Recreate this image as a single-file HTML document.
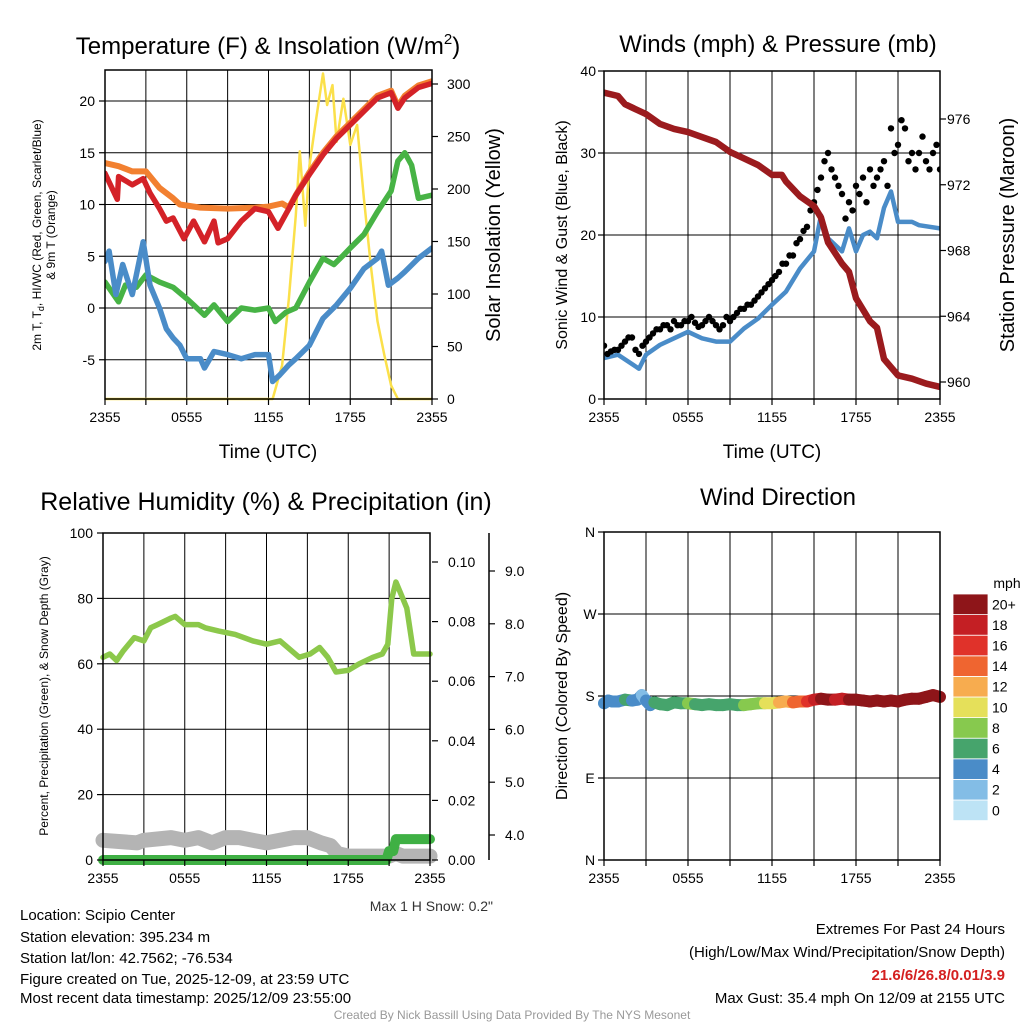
<!DOCTYPE html>
<html><head><meta charset="utf-8"><style>
body{margin:0;background:#fff;}
svg{display:block;font-family:"Liberation Sans",Arial,sans-serif;}
</style></head><body>
<svg id="s" width="1024" height="1024" viewBox="0 0 1024 1024" xmlns="http://www.w3.org/2000/svg">
<rect width="1024" height="1024" fill="#fff"/>
<g id="g1"></g>
<g id="g2"></g>
<g id="g3"></g>
<g id="g4"></g>
<g font-size="24" text-anchor="middle">
<text x="268" y="54">Temperature (F) &amp; Insolation (W/m<tspan font-size="15" dy="-10">2</tspan><tspan dy="10">)</tspan></text>
<text x="778" y="52">Winds (mph) &amp; Pressure (mb)</text>
<text x="266" y="510" font-size="25">Relative Humidity (%) &amp; Precipitation (in)</text>
<text x="778" y="505">Wind Direction</text>
</g>
<g font-size="19" text-anchor="middle">
<text x="268" y="458">Time (UTC)</text>
<text x="772" y="458">Time (UTC)</text>
<text transform="translate(500,235) rotate(-90)" font-size="20">Solar Insolation (Yellow)</text>
<text transform="translate(1014,235) rotate(-90)" font-size="20">Station Pressure (Maroon)</text>
<text transform="translate(567,235) rotate(-90)" font-size="16">Sonic Wind &amp; Gust (Blue, Black)</text>
<text transform="translate(567,696) rotate(-90)" font-size="16">Direction (Colored By Speed)</text>
<text transform="translate(41,235) rotate(-90)" font-size="12">2m T, T<tspan font-size="9" dy="3">d</tspan><tspan dy="-3">, HI/WC (Red, Green, Scarlet/Blue)</tspan></text>
<text transform="translate(55,235) rotate(-90)" font-size="12">&amp; 9m T (Orange)</text>
<text transform="translate(48,696) rotate(-90)" font-size="12">Percent, Precipitation (Green), &amp; Snow Depth (Gray)</text>
</g>
<text x="493" y="911" font-size="14" text-anchor="end" fill="#333">Max 1 H Snow: 0.2"</text>
<g font-size="15">
<text x="20" y="920">Location: Scipio Center</text>
<text x="20" y="942">Station elevation: 395.234 m</text>
<text x="20" y="963">Station lat/lon: 42.7562; -76.534</text>
<text x="20" y="984">Figure created on Tue, 2025-12-09, at 23:59 UTC</text>
<text x="20" y="1003">Most recent data timestamp: 2025/12/09 23:55:00</text>
</g>
<g font-size="15" text-anchor="end">
<text x="1005" y="934">Extremes For Past 24 Hours</text>
<text x="1005" y="957">(High/Low/Max Wind/Precipitation/Snow Depth)</text>
<text x="1005" y="980" fill="#d42020" font-weight="bold">21.6/6/26.8/0.01/3.9</text>
<text x="1005" y="1003">Max Gust: 35.4 mph On 12/09 at 2155 UTC</text>
</g>
<text x="512" y="1019" font-size="12" fill="#999" text-anchor="middle">Created By Nick Bassill Using Data Provided By The NYS Mesonet</text>
</svg>
<script>
// ---- Data (hours since 2355 UTC) ----
const xTickLabels = ["2355","0555","1155","1755","2355"];
const tHours = [0,0.9,1,2,2.8,3.3,4,4.5,5,5.8,6.5,7.3,8,8.3,9,10,11,12,12.7,13.5,14,15,16,17,18,19,20,21,21.5,22,23,24];
const tempRed = [13.0,10.5,12.7,11.9,12.5,11.1,9.6,8.4,8.7,6.7,8.4,6.4,8.4,6.3,6.7,8.4,9.6,9.3,7.7,9.6,10.9,12.9,14.8,16.4,17.7,19.0,20.3,20.8,19.3,20.3,21.3,21.7];
const t9Hours = [0,1,2,3,4,5,5.5,7,9,11,12,13,13.5,14,15,16,17,18,19,20,21,21.5,22,23,24];
const temp9m = [14.0,13.7,13.2,13.2,11.6,10.6,10.0,9.7,9.6,9.7,9.8,10.1,9.7,10.9,13.1,15.0,16.6,17.9,19.2,20.5,21.0,19.5,20.5,21.5,21.9];
const tdHours = [0,1,1.5,2.3,3,4,5,6,6.5,7.3,8,9,10,11,12,12.5,13.3,14,15,16,16.8,17.5,18,19,20,21,21.5,22,22.5,23,24];
const dewpoint = [2.5,0.6,2.2,2.0,3.2,2.5,2.0,0.9,0.3,-0.7,0.3,-1.3,0,-0.2,0,-1.3,-0.4,0,2.5,4.8,4.2,5.1,5.8,7.1,9.3,11.3,14.2,15.0,13.8,10.6,10.9];
const wcHours = [0,0.3,0.8,1.3,2,2.8,3.3,4,4.5,5,5.5,6,7,7.3,8,9,10,11,12,12.3,12.8,13.5,14,15,16,17,18,19,20,20.3,20.8,21.5,22,23,24];
const windChill = [4.5,5.5,1.3,4.2,1.3,6.4,2.2,0,-2.0,-2.9,-3.6,-4.9,-4.9,-5.8,-4.2,-4.5,-4.9,-4.5,-4.5,-7.1,-6.5,-5.5,-4.9,-3.6,-1.0,0.3,1.9,3.8,4.8,5.5,2.2,2.9,3.5,4.8,5.8];
const solHours = [0,12.3,13,13.5,14,14.3,14.7,15,15.5,16,16.3,16.7,17,17.5,18,18.5,19,19.5,20,20.5,21,21.5,24];
const solar = [0,0,32,96,175,236,165,222,267,310,280,299,245,286,242,261,191,128,74,42,13,0,0];
const tempTicks = [-5,0,5,10,15,20];
const solarTicks = [0,50,100,150,200,250,300];

const wHours = [0,1,2.5,3,4,5,6,7,8,9,10,11,12,13,14,15,15.5,16,17,17.5,18,18.5,19,19.5,20,20.5,21,22,22.5,24];
const windSpeed = [5.0,5.4,3.7,5.4,6.6,7.4,8.2,7.4,7.0,7.0,8.6,9.8,11.5,13.1,15.9,18.0,22.4,19.6,18.0,20.8,18.0,20.0,20.4,19.6,23.3,25.3,21.6,21.6,21.2,20.8];
const gHours = [0,0.5,1,1.5,2,2.5,3,3.5,4,4.5,5,5.5,6,6.5,7,7.5,8,8.5,9,9.5,10,10.5,11,11.5,12,12.5,13,13.5,14,14.5,15,15.5,16,16.5,17,17.5,18,18.5,19,19.5,20,20.5,21,21.5,22,22.5,23,23.5,24];
const gust = [6.5,5.8,6,7,7.5,5.5,7,8,8.5,9,9.5,9,9.5,9.3,9,10,9,9,9.5,10.5,11,11.5,12.5,13.5,14.5,15.5,16.5,17.5,19.5,21,24,27,30,27,25,24,26,27,28,27,29,33,31,33,30,30,29,30,28];
const gust2 = [5.5,6,6.5,7.5,6,6.5,7.5,8.5,9,8.5,9,9.5,10,8.8,9.5,9.5,8.5,10,10,11,11.5,12,13,14,15,16.5,17.5,19,20.5,23,25.5,29,28,26,22,23,25,24,26,28,26,30,34,29,28,32,28,31,29];
const pHours = [0,1,1.5,2,3,4,5,6,7,8,9,10,11,12,12.7,13,14,15,15.5,16,17,17.5,18,19,19.5,20,21,22,23,24];
const pressure = [977.6,977.4,976.9,976.7,976.3,975.7,975.4,975.2,974.9,974.6,974.0,973.6,973.2,972.6,972.6,972.2,971.3,970.7,970.0,968.5,967.2,966.7,965.1,963.7,963.3,961.4,960.4,960.2,959.9,959.7];
const windTicks = [0,10,20,30,40];
const pressTicks = [960,964,968,972,976];

const rhHours = [0,0.5,1,1.5,2.3,3,3.5,4,5,5.3,6,7,7.5,8.5,9.7,11,12,13,14.4,15.2,15.9,16.5,17.1,18,18.8,19.8,20.5,20.9,21.2,21.5,22,22.3,22.8,23.5,24];
const rh = [62,63,61,64,68,67,71,72,74,74.5,72,72,71,70,69,67,66,67,62,63,65,62,57.5,58,60,62,63,66,80,85,80,77,63,63,63];
const snowHours = [0,2.5,3,5,6,7,8,9,10,11,12,13,14,15,16,16.7,17.2,18,19,20,21,21.5,22,24];
const snowDepth = [3.9,3.85,3.9,3.95,3.9,3.95,3.85,3.95,3.95,3.9,3.85,3.9,3.95,3.95,3.85,3.8,3.65,3.6,3.6,3.6,3.6,3.65,3.6,3.6];
const prHours = [0,20.8,21,21.3,21.5,24];
const precip = [0,0,0.003,0.003,0.007,0.007];
const rhTicks = [0,20,40,60,80,100];
const prTicks = [0.00,0.02,0.04,0.06,0.08,0.10];
const snowTicks = [4.0,5.0,6.0,7.0,8.0,9.0];

const dHours = [0,0.3,0.6,1,1.5,2,2.4,2.7,3,3.3,3.6,4,4.5,5,5.5,6,6.5,7,7.5,8,8.5,9,9.5,10,10.5,11,11.5,12,12.5,13,13.5,14,14.5,15,15.5,16,16.5,17,17.5,18,18.5,19,19.5,20,20.5,21,21.5,22,22.5,23,23.5,24];
const direction = [172,175,174,174,176,175,176,181,175,170,173,171,170,173,172,172,171,170,171,170,170,171,170,170,171,172,172,172,173,174,173,174,174,176,177,176,176,177,176,176,175,174,175,174,175,174,176,177,177,179,181,179];
const dirSpeed = [5,4.5,5,5.4,6,5,4,3.7,5,5.4,6,6.6,7,7.4,7.5,8.2,7.6,7.4,7.2,7.0,7.0,7.0,7.5,8.6,9.2,9.8,10.5,11.5,12.3,13.1,14.5,15.9,17,18,22,20,19,18,20,20,20,20.4,20,23,25,21.6,21.6,21.6,21.4,21,21,20.8];
const dirTicks = ["N","E","S","W","N"];
const speedLabels = ["0","2","4","6","8","10","12","14","16","18","20+"];
const speedColors = ["#bde3f5","#83bde6","#4a8cc8","#46a46c","#87c94e","#e5e05a","#f7ac4f","#ef6530","#e0322a","#c41f24","#8e1519"];

// ---- helpers ----
const NS="http://www.w3.org/2000/svg";
function el(parent,tag,attrs){const e=document.createElementNS(NS,tag);for(const k in attrs)e.setAttribute(k,attrs[k]);parent.appendChild(e);return e;}
function lin(d0,d1,r0,r1){return v=>r0+(v-d0)*(r1-r0)/(d1-d0);}
function drawLine(g,xs,ys,X,Y,color,w,name,extra){
  const pts=xs.map((h,i)=>X(h).toFixed(1)+","+Y(ys[i]).toFixed(1)).join(" ");
  const p=el(g,"polyline",Object.assign({points:pts,fill:"none",stroke:color,"stroke-width":w,"stroke-linejoin":"round","stroke-linecap":"round"},extra||{}));
  
  
  return p;
}
function frame(g,x0,y0,x1,y1,name){
  const r=el(g,"rect",{x:x0,y:y0,width:x1-x0,height:y1-y0,fill:"none",stroke:"#000","stroke-width":1.5});
  
  
}
function grid(g,X,x0,y0,x1,y1,hlines){
  for(let h=3;h<24;h+=3){const l=el(g,"line",{x1:X(h),x2:X(h),y1:y0,y2:y1,stroke:"#000","stroke-width":1});
    
    }
  hlines.forEach(y=>{const l=el(g,"line",{x1:x0,x2:x1,y1:y,y2:y,stroke:"#000","stroke-width":1});
    
    });
}
function xTicks(g,X,yb){
  for(let h=0;h<=24;h+=3){const l=el(g,"line",{x1:X(h),x2:X(h),y1:yb,y2:yb+6,stroke:"#000","stroke-width":1.2});
    
    }
  xTickLabels.forEach((t,i)=>{const e=el(g,"text",{x:X(i*6),y:yb+23,"font-size":14,"text-anchor":"middle"});e.textContent=t;
    
    });
}
function yTicks(g,ticks,Y,x,side,fmt,lx){
  ticks.forEach(v=>{const y=Y(v);
    const l=el(g,"line",{x1:x,x2:x+(side>0?6:-6),y1:y,y2:y,stroke:"#000","stroke-width":1.2});
    
    
    const e=el(g,"text",{x:lx,y:y+5,"font-size":14,"text-anchor":side>0?"start":"end"});e.textContent=fmt(v);
    
    });
}

// ---- Panel 1 ----
(function(){
 const g=document.getElementById("g1");
 const x0=105,x1=432,y0=70,y1=399;
 const X=lin(0,24,x0,x1), Y=lin(0,20,308,101), YS=lin(0,300,399,84);
 grid(g,X,x0,y0,x1,y1,tempTicks.map(Y));
 const gl=el(g,"clipPath",{id:"c1"});el(gl,"rect",{x:x0,y:y0-2,width:x1-x0,height:y1-y0+4});
 const d=el(g,"g",{"clip-path":"url(#c1)"});
 drawLine(d,solHours,solar,X,YS,"#fbe04a",2.5,"solar-line");
 drawLine(d,t9Hours,temp9m,X,Y,"#f28030",6,"temp-9m-line");
 drawLine(d,tHours,tempRed,X,Y,"#d42228",5.5,"temp-2m-line");
 drawLine(d,tdHours,dewpoint,X,Y,"#47b345",5.5,"dewpoint-line");
 drawLine(d,wcHours,windChill,X,Y,"#4a8cc8",5.5,"wind-chill-line");
 frame(g,x0,y0,x1,y1,"temp-plot-frame");
 xTicks(g,X,y1);
 yTicks(g,tempTicks,Y,x0,-1,v=>String(v),95);
 yTicks(g,solarTicks,YS,x1,1,v=>String(v),447);
})();

// ---- Panel 2 ----
(function(){
 const g=document.getElementById("g2");
 const x0=604,x1=940,y0=71,y1=399;
 const X=lin(0,24,x0,x1), Y=lin(0,40,399,71), YP=lin(960,976,382,119);
 grid(g,X,x0,y0,x1,y1,[10,20,30].map(Y));
 const gl=el(g,"clipPath",{id:"c2"});el(gl,"rect",{x:x0,y:y0-2,width:x1-x0,height:y1-y0+4});
 const d=el(g,"g",{"clip-path":"url(#c2)"});
 drawLine(d,wHours,windSpeed,X,Y,"#4a8cc8",4.5,"wind-speed-line");
 [gust,gust2].forEach((arr,k)=>arr.forEach((v,i)=>{
   const c=el(d,"circle",{cx:X(gHours[i]+(k?0.25:0)),cy:Y(v),r:3.2,fill:"#000"});
   
   
 }));
 drawLine(d,pHours,pressure,X,YP,"#9b1b1e",6.5,"pressure-line");
 frame(g,x0,y0,x1,y1,"winds-plot-frame");
 xTicks(g,X,y1);
 yTicks(g,windTicks,Y,x0,-1,v=>String(v),596);
 yTicks(g,pressTicks,YP,x1,1,v=>String(v),947);
})();

// ---- Panel 3 ----
(function(){
 const g=document.getElementById("g3");
 const x0=103,x1=430,y0=533,y1=860;
 const X=lin(0,24,x0,x1), Y=lin(0,100,860,533), YP=lin(0,0.10,860,562), YS=lin(4,9,835,571);
 grid(g,X,x0,y0,x1,y1,[20,40,60,80].map(Y));
 drawLine(g,rhHours,rh,X,Y,"#8cc84b",5.5,"humidity-line");
 drawLine(g,snowHours,snowDepth,X,YS,"#b4b4b4",15,"snow-depth-line");
 drawLine(g,prHours,precip,X,YP,"#3fb044",10,"precip-line");
 frame(g,x0,y0,x1,y1,"humidity-plot-frame");
 xTicks(g,X,y1);
 yTicks(g,rhTicks,Y,x0,-1,v=>String(v),93);
 yTicks(g,prTicks,YP,x1+2,1,v=>v.toFixed(2),448);
 const ax=el(g,"line",{x1:489,x2:489,y1:533,y2:860,stroke:"#000","stroke-width":1.5});
 
 
 yTicks(g,snowTicks,YS,489,1,v=>v.toFixed(1),505);
})();

// ---- Panel 4 ----
(function(){
 const g=document.getElementById("g4");
 const x0=604,x1=940,y0=532,y1=860;
 const X=lin(0,24,x0,x1), Y=lin(0,360,860,532);
 grid(g,X,x0,y0,x1,y1,[90,180,270].map(Y));
 const col=v=>speedColors[Math.min(10,Math.max(0,Math.floor(v/2)))];
 for(let i=0;i<dHours.length-1;i++){
   const l=el(g,"line",{x1:X(dHours[i]),y1:Y(direction[i]),x2:X(dHours[i+1]),y2:Y(direction[i+1]),stroke:col(dirSpeed[i]),"stroke-width":12,"stroke-linecap":"round"});
   
   
 }
 frame(g,x0,y0,x1,y1,"direction-plot-frame");
 xTicks(g,X,y1);
 dirTicks.forEach((t,i)=>{const y=Y(i*90);
   const l=el(g,"line",{x1:x0,x2:x0-6,y1:y,y2:y,stroke:"#000","stroke-width":1.2});
   
   
   const e=el(g,"text",{x:590,y:y+5,"font-size":14,"text-anchor":"middle"});e.textContent=t;
   
   });
 const cb=el(g,"g",{});
 
 
 const t=el(cb,"text",{x:1007,y:588,"font-size":14,"text-anchor":"middle"});t.textContent="mph";
 
 
 const bh=20.6;
 speedLabels.forEach((lab,i)=>{const y=594+(10-i)*bh;
   const r=el(cb,"rect",{x:953,y:y,width:35,height:bh,fill:speedColors[i],stroke:"#fff","stroke-width":0.8});
   
   
   const e=el(cb,"text",{x:992,y:y+bh/2+5,"font-size":14});e.textContent=lab;
   
   });
})();
</script>
</body></html>
